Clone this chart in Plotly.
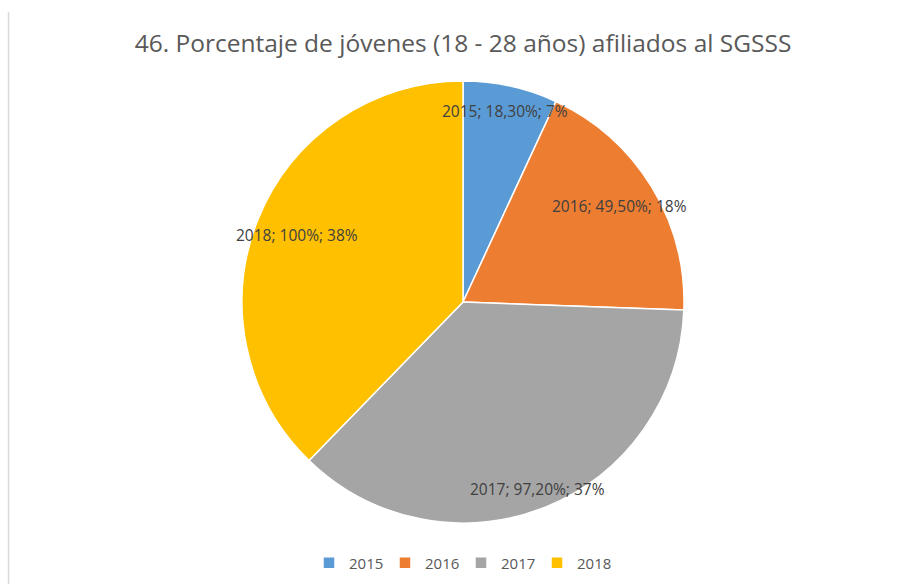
import math
import plotly.graph_objects as go

# Affiliation percentages per year
years = ["2015", "2016", "2017", "2018"]
values = [18.3, 49.5, 97.2, 100.0]
value_labels = ["18,30%", "49,50%", "97,20%", "100%"]
share_labels = ["7%", "18%", "37%", "38%"]
colors = ["#5B9BD5", "#ED7D31", "#A5A5A5", "#FFC000"]

W, H = 905, 584
cx, cy, R = 463, 302, 221
font_family = "Open Sans, Noto Sans, sans-serif"

fig = go.Figure(
    go.Pie(
        labels=years,
        values=values,
        sort=False,
        direction="clockwise",
        rotation=0,
        textinfo="none",
        hoverinfo="label+value+percent",
        marker=dict(colors=colors, line=dict(color="white", width=1.5)),
        domain=dict(x=[(cx - R) / W, (cx + R) / W], y=[1 - (cy + R) / H, 1 - (cy - R) / H]),
    )
)

# Data labels placed along each slice's mid-angle
total = sum(values)
radial = [0.885, 0.83, 0.91, 0.81]
cum = 0.0
for yr, v, vl, sl, rf in zip(years, values, value_labels, share_labels, radial):
    mid = (cum + v / 2) / total * 2 * math.pi
    cum += v
    px = cx + rf * R * math.sin(mid)
    py = cy - rf * R * math.cos(mid)
    fig.add_annotation(
        x=px / W, y=1 - py / H, xref="paper", yref="paper",
        xanchor="center", yanchor="middle",
        text=f"{yr}; {vl}; {sl}", showarrow=False,
        font=dict(family=font_family, size=15.5, color="#404040"),
    )

fig.add_shape(type="line", xref="paper", yref="paper",
              x0=8.5 / W, x1=8.5 / W, y0=0, y1=1 - 12 / H,
              line=dict(color="#D9D9D9", width=1.5))

fig.update_layout(
    width=W, height=H,
    margin=dict(l=0, r=0, t=0, b=0),
    paper_bgcolor="white",
    title=dict(
        text="46. Porcentaje de jóvenes (18 - 28 años) afiliados al SGSSS",
        x=463 / W, xanchor="center", y=1 - 43 / H, yanchor="middle",
        font=dict(family=font_family, size=24.5, color="#595959"),
    ),
    showlegend=True,
    legend=dict(
        orientation="h", x=461 / W, xanchor="center", y=1 - 563 / H, yanchor="middle",
        font=dict(family=font_family, size=15, color="#595959"),
        itemwidth=30, traceorder="normal",
        entrywidth=31, entrywidthmode="pixels",
    ),
)

fig.write_html("out.html")
